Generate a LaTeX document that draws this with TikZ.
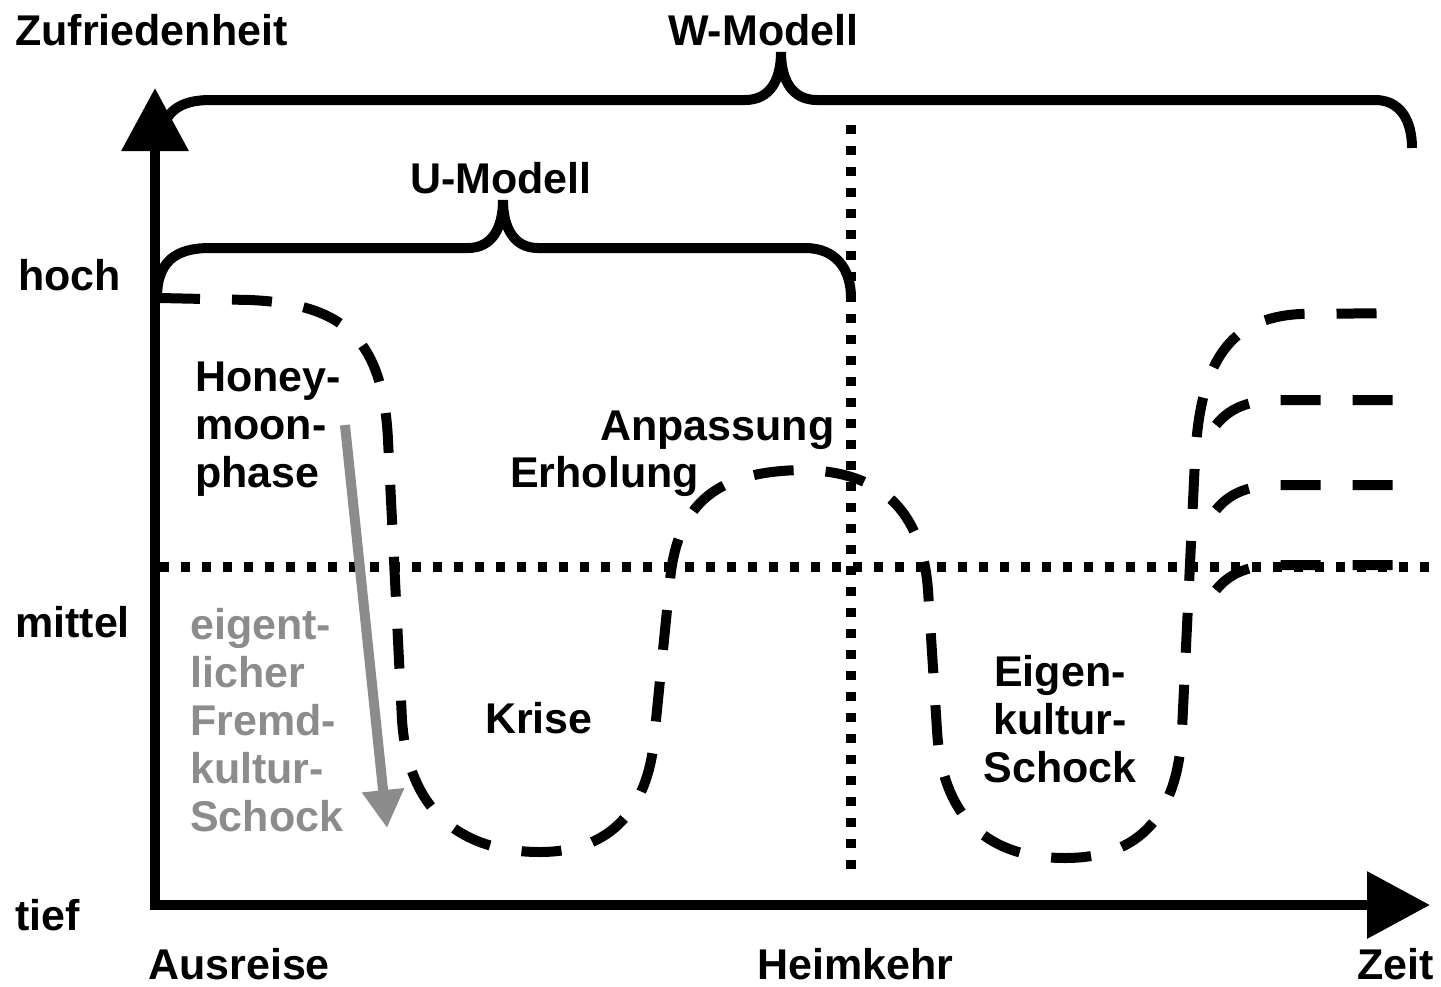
\documentclass[tikz,border=0pt]{standalone}
\usepackage{fontspec}
\setmainfont{Liberation Sans}
\usetikzlibrary{arrows.meta}
\definecolor{shockgray}{gray}{0.55}

\begin{document}
\begin{tikzpicture}[x=1pt, y=-1pt,
    lbl/.style={font=\bfseries\fontsize{43}{48}\selectfont, inner sep=0pt, anchor=base west, align=left},
    axis/.style={line width=10pt, line join=miter, {Triangle[length=63pt,width=65pt]}-{Triangle[length=63pt,width=65pt]}},
    brace/.style={line width=10pt},
    curve/.style={line width=10pt, dash pattern=on 40pt off 32pt},
    grid/.style={line width=10pt, dash pattern=on 9pt off 12pt}]
    \useasboundingbox (0,0) rectangle (1441,986);

    % Axes
    \coordinate (ytip) at (155,88);
    \coordinate (origin) at (155,905);
    \coordinate (xtip) at (1430,905);
    \draw[axis] (ytip) -- (origin) -- (xtip);

    % Axis labels
    \node[lbl] (zufr) at (15,45) {Zufriedenheit};
    \node[lbl] (hoch) at (18,290) {hoch};
    \node[lbl] (mittel) at (15,637) {mittel};
    \node[lbl] (tief) at (15,930) {tief};
    \node[lbl, text depth=0pt] (ausreise) at (148,979) {Ausreise};
    \node[lbl, text depth=0pt] (heimkehr) at (757,979) {Heimkehr};
    \node[lbl, text depth=0pt] (zeit) at (1357,979) {Zeit};

    % Dotted guides (mittel, Heimkehr)
    \draw[grid] (160,567) -- (1432,567);
    \draw[grid] (851,125) -- (851,875);

    % Braces for W- and U-Modell
    \draw[brace] (162,140) .. controls (162,112) and (180,100) .. (210,100) -- (745,100)
        .. controls (770,100) and (781,80) .. (781,52)
        .. controls (781,80) and (792,100) .. (817,100) -- (1375,100)
        .. controls (1400,100) and (1412,120) .. (1412,148);
    \node[lbl] (wmod) at (668,45) {W-Modell};

    \draw[brace] (157,298) .. controls (157,262) and (175,248) .. (210,248) -- (468,248)
        .. controls (492,248) and (503,228) .. (503,200)
        .. controls (503,228) and (514,248) .. (538,248) -- (805,248)
        .. controls (835,248) and (851,268) .. (851,298);
    \node[lbl] (umod) at (410,193) {U-Modell};

    % Satisfaction curve (dashed)
    \draw[curve] (160,298) -- (250,300)
        .. controls (340,304) and (383,335) .. (388,440) -- (402,720)
        .. controls (408,810) and (460,852) .. (540,852)
        .. controls (610,852) and (650,810) .. (655,730) -- (670,580)
        .. controls (678,500) and (720,472) .. (800,470)
        .. controls (880,470) and (922,510) .. (928,590) -- (937,730)
        .. controls (942,820) and (990,858) .. (1065,858)
        .. controls (1140,858) and (1178,815) .. (1182,730) -- (1195,460)
        .. controls (1200,360) and (1230,318) .. (1300,314) -- (1406,313);
    \draw[curve] (1216,425) .. controls (1228,410) and (1245,401) .. (1275,400) -- (1406,400);
    \draw[curve] (1216,510) .. controls (1228,495) and (1245,486) .. (1275,485) -- (1406,485);
    \draw[curve] (1216,590) .. controls (1228,575) and (1245,566) .. (1275,565) -- (1406,565);

    % Phases
    \node[lbl] (honey) at (195,487) {Honey-\\moon-\\phase};
    \node[lbl] (anpass) at (600,440) {Anpassung};
    \node[lbl] (erhol) at (510,487) {Erholung};
    \node[lbl] (krise) at (485,733) {Krise};
    \node[lbl, anchor=base, align=center] (eigen) at (1060,782) {Eigen-\\kultur-\\Schock};

    % Fremdkultur-Schock (grey)
    \node[lbl, text=shockgray] (fremd) at (190,831) {eigent-\\licher\\Fremd-\\kultur-\\Schock};
    \coordinate (drop0) at (345,425);
    \coordinate (drop1) at (387,828);
    \draw[shockgray, line width=10pt, -{Triangle[length=38pt,width=40pt]}] (drop0) -- (drop1);
\end{tikzpicture}
\end{document}
